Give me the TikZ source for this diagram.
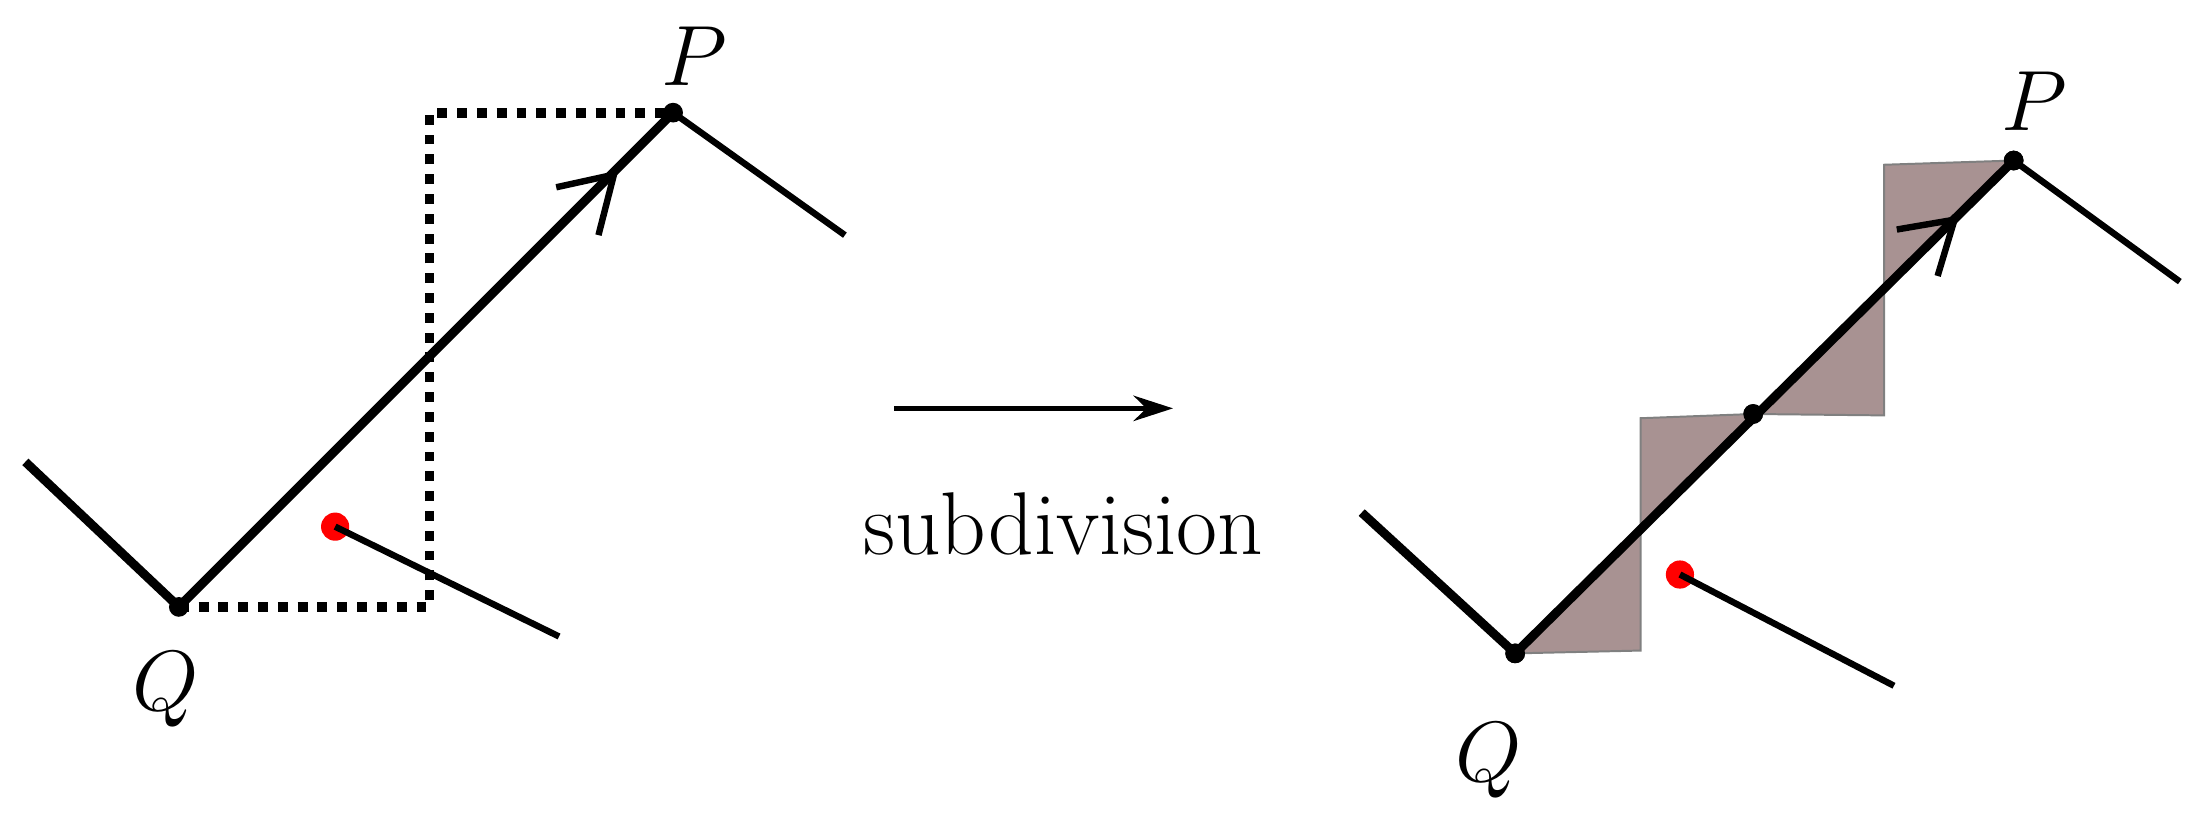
\documentclass[tikz,border=0pt]{standalone}
\usetikzlibrary{arrows.meta}
\definecolor{shade}{RGB}{168,146,146}
\begin{document}
\begin{tikzpicture}[x=0.01cm,y=-0.01cm,
  seg/.style={line width=1.3pt},
  main/.style={line width=1.8pt},
  dot/.style={circle,fill=black,inner sep=0pt,minimum size=0.14cm},
  rdot/.style={circle,fill=red,inner sep=0pt,minimum size=0.2cm},
  lab/.style={font=\fontsize{18}{20}\selectfont}]
\useasboundingbox (0,0) rectangle (1568,579);
% left
\coordinate (L0) at (18,328);
\node[dot] (Q1) at (127,431) {};
\node[dot] (P1) at (478,80) {};
\coordinate (L1) at (600,167);
\coordinate (C1) at (305,431);
\coordinate (C2) at (305,80);
\draw[line width=2pt,dotted] (Q1.center) -- (C1) -- (C2) -- (P1.center);
\draw[main] (L0) -- (Q1.center) -- (P1.center);
\draw[seg] (P1.center) -- (L1);
\node[rdot] (R1) at (238,374) {};
\coordinate (R1e) at (397,452);
\draw[seg] (R1.center) -- (R1e);
\coordinate (A1) at (436,124);
\coordinate (A1a) at (395,133);
\coordinate (A1b) at (425,167);
\draw[seg] (A1a) -- (A1) -- (A1b);
\node[lab] (q1) at (118,490) {$Q$};
\node[lab] (p1) at (493,40) {$P$};
% middle
\coordinate (M0) at (635,290);
\coordinate (M1) at (833,290);
\draw[line width=1pt,-{Stealth[length=0.28cm,width=0.18cm]}] (M0) -- (M1);
\node[lab] (sub) at (755,372) {subdivision};
% right
\coordinate (L2) at (967,364);
\node[dot] (Q2) at (1076,464) {};
\node[dot] (P2) at (1430,114) {};
\node[dot] (Mid) at (1245,294) {};
\coordinate (L3) at (1548,200);
\coordinate (S1) at (1165,462);
\coordinate (S2) at (1165,297);
\coordinate (S3) at (1338,295);
\coordinate (S4) at (1338,117);
\draw[fill=shade,draw=gray,line width=0.4pt] (Q2.center) -- (S1) -- (S2) -- (Mid.center) -- (S3) -- (S4) -- (P2.center) -- cycle;
\draw[main] (L2) -- (Q2.center) -- (P2.center);
\node[dot] at (Q2) {};
\node[dot] at (Mid) {};
\node[dot] at (P2) {};
\draw[seg] (P2.center) -- (L3);
\node[rdot] (R2) at (1193,408) {};
\coordinate (R2e) at (1345,487);
\draw[seg] (R2.center) -- (R2e);
\coordinate (A2) at (1388,156);
\coordinate (A2a) at (1347,163);
\coordinate (A2b) at (1376,196);
\draw[seg] (A2a) -- (A2) -- (A2b);
\node[lab] (q2) at (1057,540) {$Q$};
\node[lab] (p2) at (1445,72) {$P$};
\end{tikzpicture}
\end{document}
